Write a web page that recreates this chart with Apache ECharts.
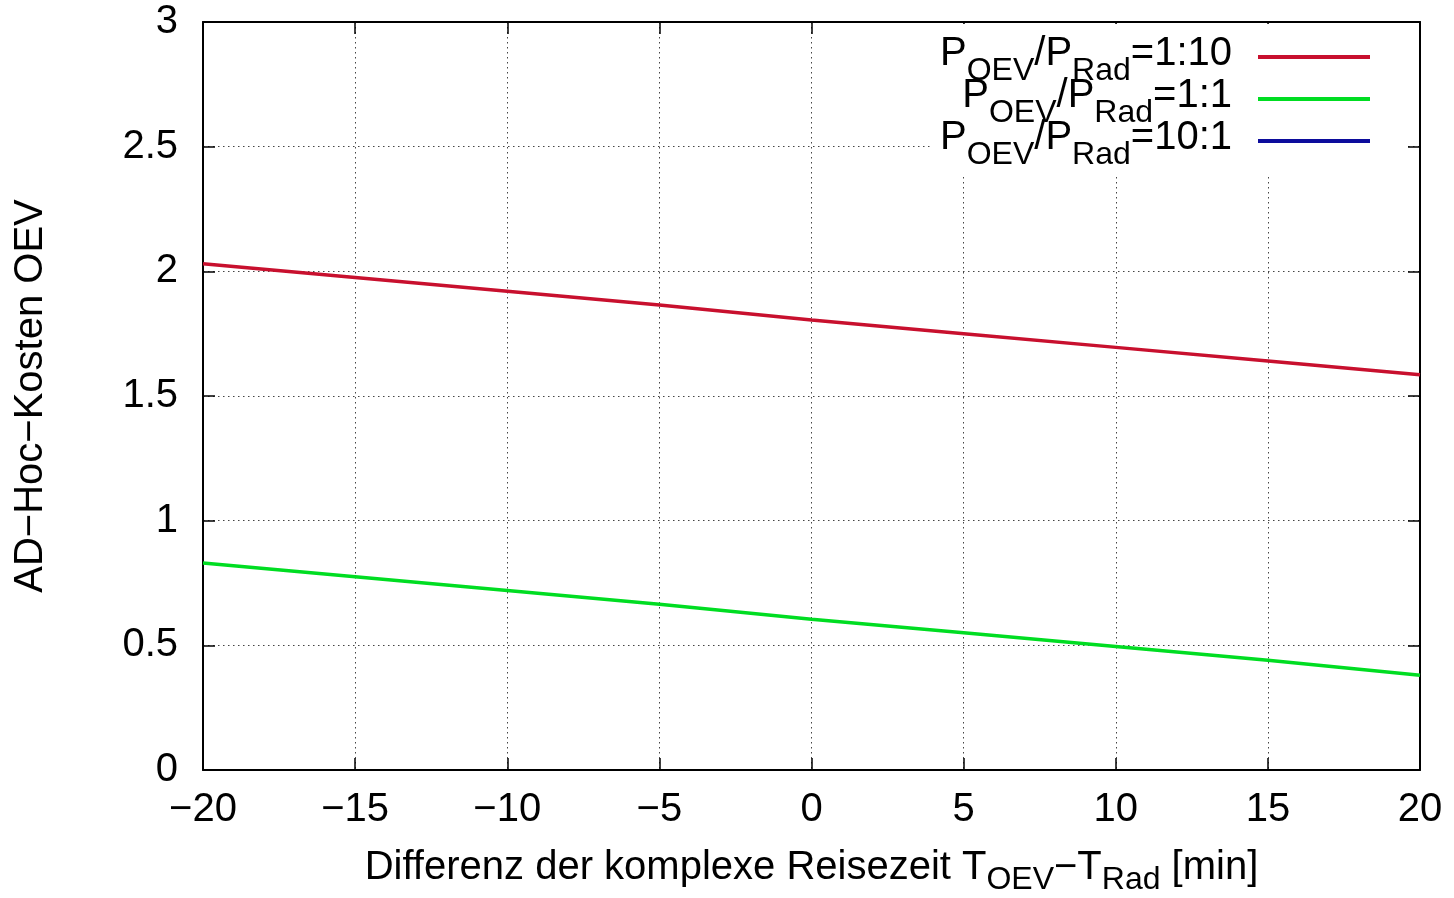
<!DOCTYPE html>
<html>
<head>
<meta charset="utf-8">
<script src="https://cdn.jsdelivr.net/npm/echarts@6/dist/echarts.min.js"></script>
<style>
  html, body { margin: 0; padding: 0; background: #fff; }
  #chart { width: 1454px; height: 898px; }
</style>
</head>
<body>
<div id="chart"></div>
<script>
// Werte
const xValues = [-20, -15, -10, -5, 0, 5, 10, 15, 20];
const cost1to10 = [2.03, 1.975, 1.92, 1.865, 1.805, 1.75, 1.695, 1.64, 1.585];
const cost1to1 = [0.83, 0.775, 0.72, 0.665, 0.605, 0.55, 0.495, 0.44, 0.38];
const cost10to1 = []; // liegt ausserhalb des sichtbaren Bereichs

const seriesNames = ['P_{OEV}/P_{Rad}=1:10', 'P_{OEV}/P_{Rad}=1:1', 'P_{OEV}/P_{Rad}=10:1'];
const seriesColors = ['#c8102e', '#00dd22', '#0c0c9c'];
const xAxisTitle = 'Differenz der komplexe Reisezeit T_{OEV}\u2212T_{Rad} [min]';
const yAxisTitle = 'AD\u2212Hoc\u2212Kosten OEV';

const FONT = '"Liberation Sans", Arial, Helvetica, sans-serif';

// "P_{OEV}" -> rich text mit Subskript
const toRich = (s) => {
  let out = '';
  const re = /_\{([^}]*)\}/g;
  let last = 0, m;
  while ((m = re.exec(s)) !== null) {
    if (m.index > last) out += '{m|' + s.slice(last, m.index) + '}';
    out += '{s|' + m[1] + '}';
    last = re.lastIndex;
  }
  if (last < s.length) out += '{m|' + s.slice(last) + '}';
  return out;
};

const mainStyle = { fontSize: 40, fontFamily: FONT, color: '#000', lineHeight: 46, verticalAlign: 'top' };
const legendRich = {
  m: mainStyle,
  s: { fontSize: 32, fontFamily: FONT, color: '#000', lineHeight: 10, padding: [21, 0, 0, 0], verticalAlign: 'top' },
};
const axisRich = {
  m: mainStyle,
  s: { fontSize: 32, fontFamily: FONT, color: '#000', lineHeight: 10, padding: [16, 0, 0, 0], verticalAlign: 'top' },
};

const minus = (v) => String(v).replace('-', '\u2212');

const chart = echarts.init(document.getElementById('chart'));

const mirrorAxis = {
  axisLabel: { show: false },
  axisLine: { show: true, onZero: false, lineStyle: { color: '#000', width: 2 } },
  axisTick: { show: true, inside: true, length: 12, lineStyle: { color: '#000', width: 1.5 } },
  splitLine: { show: false },
};

const option = {
  animation: false,
  backgroundColor: '#fff',
  grid: { left: 203, right: 34, top: 22, bottom: 128, containLabel: false, outerBoundsMode: 'none' },
  legend: {
    orient: 'vertical',
    right: 49,
    top: 24,
    align: 'right',
    itemGap: -11,
    itemWidth: 112,
    itemHeight: 4,
    icon: 'rect',
    padding: [10, 35, 4, 8],
    backgroundColor: '#fff',
    data: seriesNames,
    formatter: (name) => toRich(name),
    textStyle: { padding: [0, 21, 0, 0], rich: legendRich },
  },
  xAxis: [
    {
      type: 'value',
      min: -20,
      max: 20,
      interval: 5,
      position: 'bottom',
      name: toRich(xAxisTitle),
      nameLocation: 'middle',
      nameGap: 78,
      nameTextStyle: { rich: axisRich },
      axisLine: { show: true, onZero: false, lineStyle: { color: '#000', width: 2 } },
      axisTick: { show: true, inside: true, length: 12, lineStyle: { color: '#000', width: 1.5 } },
      axisLabel: {
        margin: 20,
        fontSize: 40,
        fontFamily: FONT,
        color: '#000',
        formatter: minus,
      },
      splitLine: { show: true, lineStyle: { color: '#444', width: 1, type: [1.5, 3.5] } },
    },
    Object.assign({ type: 'value', min: -20, max: 20, interval: 5, position: 'top' }, mirrorAxis),
  ],
  yAxis: [
    {
      type: 'value',
      min: 0,
      max: 3,
      interval: 0.5,
      position: 'left',
      name: yAxisTitle,
      nameLocation: 'middle',
      nameRotate: 90,
      nameGap: 152,
      nameTextStyle: { fontSize: 40, fontFamily: FONT, color: '#000' },
      axisLine: { show: true, onZero: false, lineStyle: { color: '#000', width: 2 } },
      axisTick: { show: true, inside: true, length: 12, lineStyle: { color: '#000', width: 1.5 } },
      axisLabel: { margin: 25, fontSize: 40, fontFamily: FONT, color: '#000' },
      splitLine: { show: true, lineStyle: { color: '#444', width: 1, type: [1.5, 3.5] } },
    },
    Object.assign({ type: 'value', min: 0, max: 3, interval: 0.5, position: 'right' }, mirrorAxis),
  ],
  series: [cost1to10, cost1to1, cost10to1].map((vals, i) => ({
    name: seriesNames[i],
    type: 'line',
    showSymbol: false,
    symbol: 'none',
    clip: true,
    data: vals.map((v, j) => [xValues[j], v]),
    itemStyle: { color: seriesColors[i] },
    lineStyle: { color: seriesColors[i], width: 3.5 },
  })),
};

chart.setOption(option);
</script>
</body>
</html>
